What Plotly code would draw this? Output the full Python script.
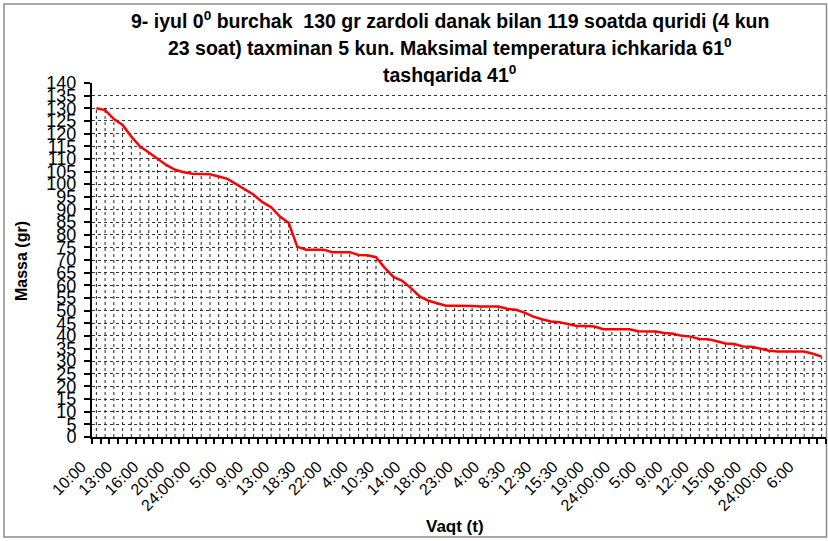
import plotly.graph_objects as go

# Mass of apricot kernels (gr), one reading per measurement
mass_gr = [
    130.0, 129.3, 125.7, 123.4, 118.8, 114.9, 112.5, 109.9, 107.6, 105.7,
    104.7, 104.1, 103.9, 103.9, 103.0, 102.1, 100.0, 97.8, 95.8, 92.9,
    90.9, 87.2, 84.7, 75.2, 74.1, 74.1, 74.1, 73.1, 73.1, 73.1,
    72.0, 71.9, 71.1, 66.9, 63.3, 61.8, 58.9, 55.6, 53.9, 52.9,
    51.9, 51.9, 51.9, 51.8, 51.6, 51.6, 51.6, 50.7, 50.3, 49.2,
    47.6, 46.6, 45.7, 45.4, 44.7, 43.9, 43.9, 43.7, 42.6, 42.6,
    42.6, 42.6, 41.8, 41.8, 41.7, 41.1, 40.8, 40.0, 39.7, 38.8,
    38.7, 37.9, 37.0, 36.8, 35.8, 35.7, 34.9, 34.1, 33.8, 33.8,
    33.8, 33.8, 32.9, 31.8,
]

# Clock times shown under every third reading
time_labels = [
    "10:00", "13:00", "16:00", "20:00", "24:00:00", "5:00", "9:00",
    "13:00", "18:30", "22:00", "4:00", "10:30", "14:00", "18:00",
    "23:00", "4:00", "8:30", "12:30", "15:30", "19:00", "24:00:00",
    "5:00", "9:00", "12:00", "15:00", "18:00", "24:00:00", "6:00",
]
label_step = 3

title_lines = [
    "9- iyul 0<sup>0</sup> burchak  130 gr zardoli danak bilan 119 soatda quridi (4 kun",
    "23 soat) taxminan 5 kun. Maksimal temperatura ichkarida 61<sup>0</sup>",
    "tashqarida 41<sup>0</sup>",
]

W, H = 828, 541
ML, MR, MT, MB = 92, 2, 83, 104
FONT = "Liberation Sans, Arial, sans-serif"


def paper_x(px):
    return (px - ML) / (W - ML - MR)


def paper_y(py):
    return (H - MB - py) / (H - MT - MB)


n = len(mass_gr)
idx = list(range(n))
tick_idx = [k * label_step for k in range(len(time_labels))]

# Dashed drop lines from every reading down to the axis
drop_x, drop_y = [], []
for i, v in zip(idx, mass_gr):
    drop_x += [i, i, None]
    drop_y += [0, v, None]

fig = go.Figure()
fig.add_trace(go.Scatter(
    x=drop_x, y=drop_y, mode="lines",
    line=dict(color="#222222", width=1, dash="3px,3px"),
    hoverinfo="skip", showlegend=False,
))
fig.add_trace(go.Scatter(
    x=idx, y=mass_gr, mode="lines",
    line=dict(color="#ff0000", width=2.5),
    showlegend=False,
))

fig.update_layout(
    width=W, height=H, autosize=False,
    margin=dict(l=ML, r=MR, t=MT, b=MB, pad=0),
    paper_bgcolor="white", plot_bgcolor="white",
    font=dict(family=FONT, color="black"),
    xaxis=dict(
        range=[-0.5, n - 0.5],
        tickmode="array", tickvals=tick_idx, ticktext=time_labels,
        tickangle=-45, tickfont=dict(size=16, family=FONT, color="black"),
        ticklabelshift=-15, ticklabelstandoff=12,
        ticks="", showgrid=False, zeroline=False,
        showline=True, linecolor="black", linewidth=2,
        minor=dict(
            tickmode="array", tickvals=[i - 0.5 for i in range(n + 1)],
            ticks="outside", ticklen=5, tickwidth=2, tickcolor="black",
            showgrid=False,
        ),
    ),
    yaxis=dict(
        range=[0, 140], tick0=0, dtick=5,
        tickfont=dict(size=18, family=FONT, color="black"),
        ticks="outside", ticklen=6, tickwidth=2, tickcolor="black",
        showline=True, linecolor="black", linewidth=2,
        showgrid=True, gridcolor="#333333", gridwidth=1, griddash="3px,3px",
        zeroline=False, ticklabelstandoff=4,
    ),
)

annotations = []
for line, py in zip(title_lines, [20, 47, 74]):
    annotations.append(dict(
        text=f"<b>{line}</b>", xref="paper", yref="paper",
        x=paper_x(450), y=paper_y(py), xanchor="center", yanchor="middle",
        showarrow=False, font=dict(size=19.5, family=FONT, color="black"),
    ))
annotations.append(dict(
    text="<b>Massa (gr)</b>", xref="paper", yref="paper",
    x=paper_x(21), y=paper_y(261), xanchor="center", yanchor="middle",
    textangle=-90, showarrow=False, font=dict(size=16, family=FONT, color="black"),
))
annotations.append(dict(
    text="<b>Vaqt (t)</b>", xref="paper", yref="paper",
    x=paper_x(455), y=paper_y(526), xanchor="center", yanchor="middle",
    showarrow=False, font=dict(size=17, family=FONT, color="black"),
))
fig.update_layout(annotations=annotations)

# Chart frame
fig.add_shape(
    type="rect", xref="paper", yref="paper",
    x0=paper_x(4), x1=paper_x(826.5), y0=paper_y(537), y1=paper_y(4),
    line=dict(color="#8c8c8c", width=1.5), fillcolor="rgba(0,0,0,0)", layer="below",
)

fig.write_html("out.html")
